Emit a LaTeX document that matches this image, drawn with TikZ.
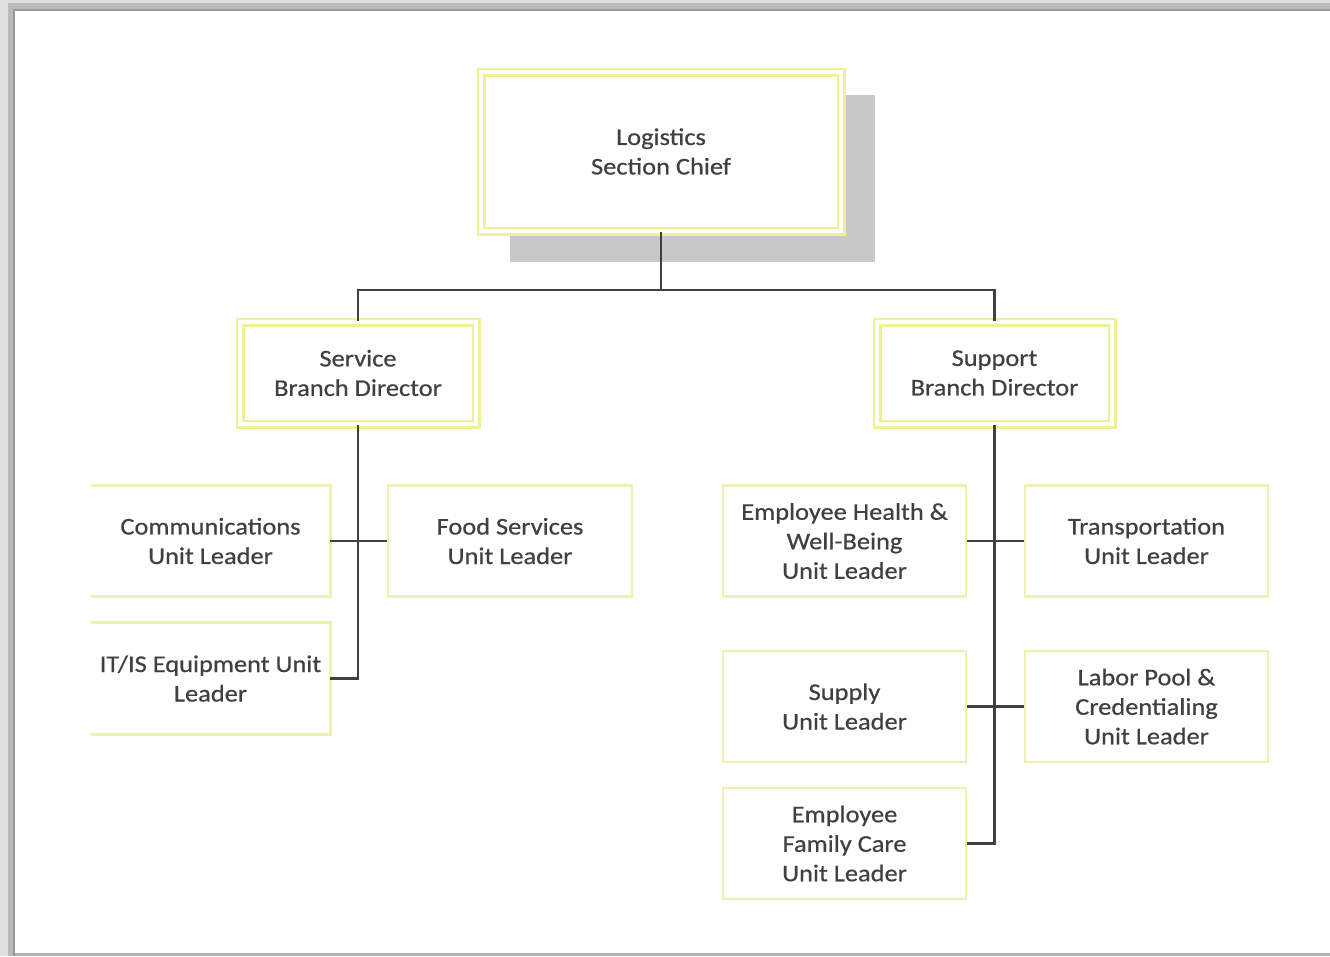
\documentclass[tikz,border=0pt]{standalone}
\usepackage{fontspec}
\setmainfont[FakeStretch=1.1,FakeBold=0.6]{Carlito}
\definecolor{txtc}{RGB}{64,64,64}
\definecolor{linec}{RGB}{64,64,64}
\definecolor{yelo}{RGB}{240,240,150}
\definecolor{yeli}{RGB}{240,240,175}
\definecolor{shadowc}{RGB}{200,200,200}
\begin{document}
\begin{tikzpicture}[x=1pt,y=-1pt,
  lbl/.style={align=center,text=txtc,font=\fontsize{24}{29.5}\selectfont,inner sep=0pt},
  branchbox/.style={lbl,draw=yelo,line width=2.5pt,double=white,double distance=4pt},
  unitbox/.style={lbl,draw=yeli,line width=2.8pt,minimum width=243pt,minimum height=111pt},
  openbox/.style={lbl,minimum width=239pt,minimum height=111pt},
  conn/.style={draw=linec,line width=2.1pt}]
\useasboundingbox (0,0) rectangle (1330,956);
% frame
\fill[black!13] (0,0) rectangle (1330,10);
\fill[black!13] (0,0) rectangle (15,956);
\fill[black!27] (8,3) rectangle (1330,10);
\fill[black!27] (8,3) rectangle (14,956);
\fill[black!40] (14,9) rectangle (1330,11);
\fill[black!40] (13,9) rectangle (15,956);
\fill[black!30] (15,953) rectangle (1330,956);
% shadow of top box
\fill[shadowc] (510,95) rectangle (875,262);
% top
\node[branchbox,fill=white,minimum width=360pt,minimum height=159pt] (top) at (661,151.5) {Logistics\\Section Chief};
% branches
\node[branchbox,minimum width=236pt,minimum height=102pt] (svc) at (358,373) {Service\\Branch Director};
\node[branchbox,minimum width=235pt,minimum height=102pt] (sup) at (994.5,373) {Support\\Branch Director};
% service units
\node[openbox] (comm) at (210.5,541) {Communications\\Unit Leader};
\node[openbox] (it) at (210.5,678.5) {IT/IS Equipment Unit\\Leader};
\foreach \n in {comm,it}
  \draw[draw=yeli,line width=2.8pt] (\n.north west) -- (\n.north east) -- (\n.south east) -- (\n.south west);
\node[unitbox,minimum width=244pt] (food) at (510,541) {Food Services\\Unit Leader};
% support units
\node[unitbox] (eh) at (844.5,541) {Employee Health \&\\Well-Being\\Unit Leader};
\node[unitbox] (tr) at (1146.5,541) {Transportation\\Unit Leader};
\node[unitbox] (sp) at (844.5,706.5) {Supply\\Unit Leader};
\node[unitbox] (lp) at (1146.5,706.5) {Labor Pool \&\\Credentialing\\Unit Leader};
\node[unitbox] (fam) at (844.5,843.5) {Employee\\Family Care\\Unit Leader};
% connectors
\coordinate (jt) at (661,290);
\draw[conn] (top.south) -- (jt);
\draw[conn] (svc.north) -- (svc.north |- jt) -- (sup.north |- jt) -- (sup.north);
\draw[conn] (svc.south) -- (svc.south |- it.east) -- (it.east);
\draw[conn] (comm.east) -- (food.west);
\draw[conn] (sup.south) -- (sup.south |- fam.east) -- (fam.east);
\draw[conn] (eh.east) -- (tr.west);
\draw[conn] (sp.east) -- (lp.west);
\end{tikzpicture}
\end{document}
